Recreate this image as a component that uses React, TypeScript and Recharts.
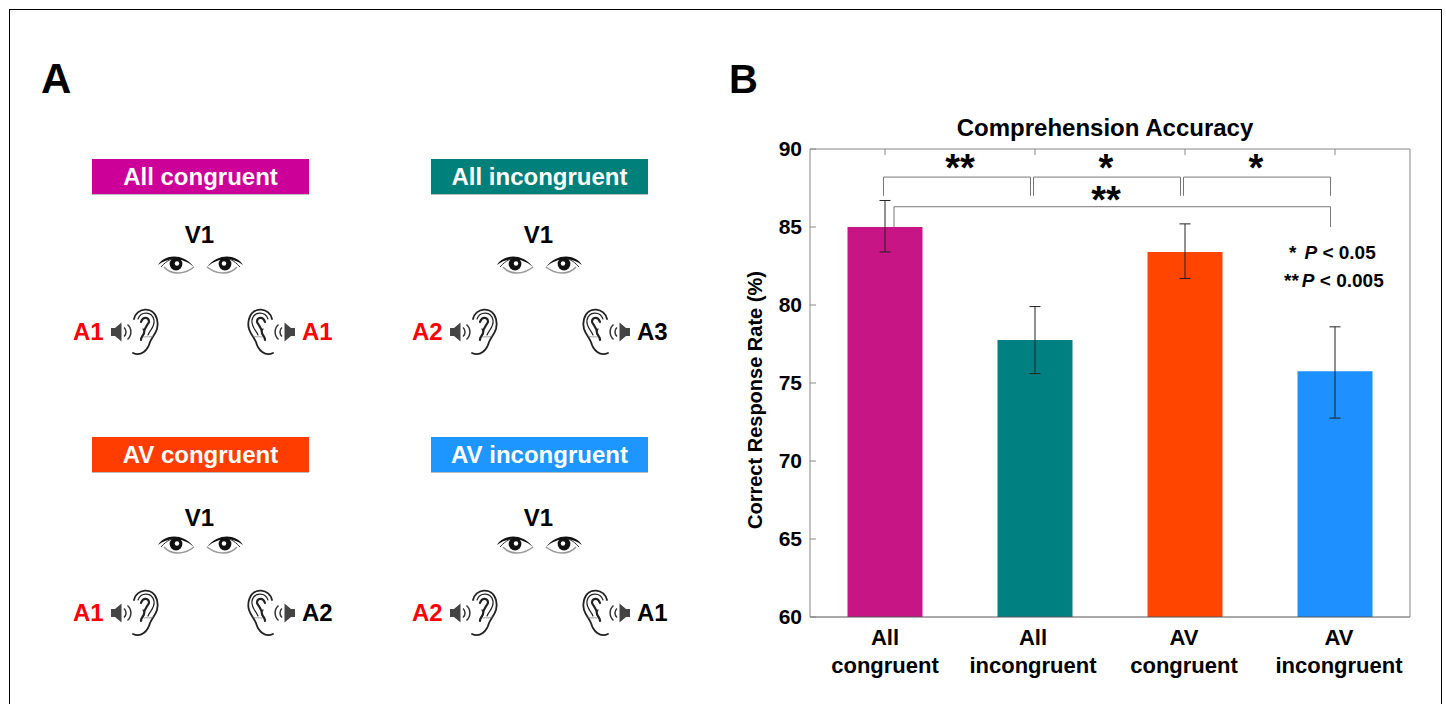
import { BarChart, Bar, Cell, ErrorBar, XAxis, YAxis, ReferenceLine, ReferenceDot } from 'recharts'

// panel B
const categories = ['All congruent', 'All incongruent', 'AV congruent', 'AV incongruent']
const accuracy = [85.0, 77.75, 83.4, 75.75]
const errLow = [1.6, 2.15, 1.7, 3.0]
const errHigh = [1.7, 2.15, 1.8, 2.85]
const barColors = ['#C71585', '#008080', '#FF4500', '#1E90FF']
const yTicks = [60, 65, 70, 75, 80, 85, 90]
const slots = [1, 2, 3, 4]
const labelNudge = [0, -2, -1, 4]

// significance brackets in (slot, value) units
const brackets = [
  { from: 0.99, to: 1.97, top: 88.2, drop: 87 },
  { from: 1.99, to: 2.97, top: 88.2, drop: 87 },
  { from: 2.99, to: 3.97, top: 88.2, drop: 87 },
  { from: 1.06, to: 3.97, top: 86.3, drop: 85 },
]
const stars = [
  { x: 1.5, y: 89.0, label: '**' },
  { x: 2.473, y: 89.0, label: '*' },
  { x: 3.473, y: 89.0, label: '*' },
  { x: 2.473, y: 86.95, label: '**' },
]

// panel A
const conditions = [
  { name: 'All congruent', color: '#CC0099', left: 'A1', right: 'A1', rightRed: true, dx: 0, dxRight: 0, dy: 0 },
  { name: 'All incongruent', color: '#00807A', left: 'A2', right: 'A3', rightRed: false, dx: 339, dxRight: -4, dy: 0 },
  { name: 'AV congruent', color: '#FF3D00', left: 'A1', right: 'A2', rightRed: false, dx: 0, dxRight: 0, dy: 281 },
  { name: 'AV incongruent', color: '#1E96FF', left: 'A2', right: 'A1', rightRed: false, dx: 339, dxRight: -4, dy: 281 },
]

const data = categories.map((category, i) => ({
  category,
  slot: slots[i],
  accuracy: accuracy[i],
  err: [errLow[i], errHigh[i]],
}))

const FONT = '"Liberation Sans", Arial, sans-serif'

function Eye({ x, y, flip }: { x: number; y: number; flip?: boolean }) {
  return (
    <g transform={`translate(${x},${y}) scale(${flip ? -1 : 1},1)`}>
      <path d="M-18,1 C-11,-10 7,-11 18,3 C7,-7 -8,-7 -18,1 Z" fill="#111" />
      <path d="M-15,3 C-9,-4 -3,-6 2,-6" fill="none" stroke="#333" strokeWidth={1} />
      <path d="M-12,3 C-5,11 8,11 18,3" fill="none" stroke="#999" strokeWidth={1.6} />
      <circle cx={0} cy={0} r={6.4} fill="#111" />
      <circle cx={1} cy={-0.5} r={2.2} fill="#fff" />
    </g>
  )
}

function Ear({ x, y, flip }: { x: number; y: number; flip?: boolean }) {
  return (
    <g
      transform={`translate(${x},${y}) scale(${flip ? -1 : 1},1)`}
      fill="none"
      stroke="#222"
      strokeLinecap="round"
    >
      <path d="M1,10 C3,-1 20,-4 24,10 C27,21 20,26 17,33 C15,41 8,48 0,44" strokeWidth={1.8} />
      <path d="M5,10 C8,2 19,2 21,11 C22,18 17,21 15,26" strokeWidth={1.2} />
      <path d="M8,13 C10,7 16,8 16,13 C14,17 11,19 11,24 C10,27 8,28 8,31" strokeWidth={2.2} />
      <path d="M10,20 C12,22 12,24 10,27" strokeWidth={1.2} />
      <path d="M11,28 C14,27 17,29 20,27" strokeWidth={0.8} stroke="#888" />
    </g>
  )
}

function Speaker({ x, y, flip }: { x: number; y: number; flip?: boolean }) {
  return (
    <g transform={`translate(${x},${y}) scale(${flip ? -1 : 1},1)`}>
      <path d="M0,-4 L4,-4 L10.5,-9.5 L10.5,9.5 L4,4 L0,4 Z" fill="#444" />
      <path d="M13,-4.5 A6,6 0 0 1 13,4.5" fill="none" stroke="#333" strokeWidth={1.5} />
      <path d="M16.5,-7.5 A10,10 0 0 1 16.5,7.5" fill="none" stroke="#333" strokeWidth={1.5} />
    </g>
  )
}

function PanelA() {
  return (
    <svg width={720} height={704} style={{ position: 'absolute', left: 0, top: 0 }} fontFamily={FONT}>
      <text x={41} y={93} fontSize={42} fontWeight="bold" fill="#000">A</text>
      {conditions.map(c => (
        <g key={c.name} transform={`translate(${c.dx},${c.dy})`}>
          <rect x={92} y={c.dy ? 157 : 160} width={217} height={35} fill="#bbb" />
          <rect x={92} y={c.dy ? 156 : 159} width={217} height={35} fill={c.color} />
          <text x={200.5} y={c.dy ? 182 : 185} textAnchor="middle" fontSize={24} fontWeight="bold" fill="#fff">
            {c.name}
          </text>
          <text x={199.5} y={c.dy ? 245 : 243} textAnchor="middle" fontSize={24} fontWeight="bold" fill="#000">V1</text>
          <Eye x={176} y={c.dy ? 263 : 264} />
          <Eye x={225} y={c.dy ? 263 : 264} flip />
          <text x={73} y={340} fontSize={24} fontWeight="bold" fill="#FF0000">{c.left}</text>
          <Speaker x={111} y={332} />
          <Ear x={133} y={309} />
          <g transform={`translate(${c.dxRight},0)`}>
            <Ear x={273} y={309} flip />
            <Speaker x={295} y={332} flip />
            <text x={302} y={340} fontSize={24} fontWeight="bold" fill={c.rightRed ? '#FF0000' : '#000'}>{c.right}</text>
          </g>
        </g>
      ))}
    </svg>
  )
}

function CategoryTick({ x, y, payload, index }: any) {
  const words = String(payload.value).split(' ')
  const cx = x + labelNudge[index]
  return (
    <text x={cx} textAnchor="middle" fontSize={22} fontWeight="bold" fill="#000" fontFamily={FONT}>
      <tspan x={cx} y={y + 20}>{words[0]}</tspan>
      <tspan x={cx} y={y + 48}>{words[1]}</tspan>
    </text>
  )
}

function PanelB() {
  return (
    <BarChart
      width={1446}
      height={704}
      data={data}
      margin={{ top: 149, left: 750, right: 36, bottom: 27 }}
      barCategoryGap="25%"
      style={{ position: 'absolute', left: 0, top: 0 }}
    >
      <XAxis
        dataKey="category"
        height={60}
        interval={0}
        tick={<CategoryTick />}
        tickLine={false}
        axisLine={{ stroke: '#555' }}
      />
      <YAxis
        domain={[60, 90]}
        ticks={yTicks}
        width={60}
        tickSize={-6}
        tickMargin={14}
        interval={0}
        tick={{ fontSize: 21, fontWeight: 'bold', fill: '#000', fontFamily: FONT }}
        tickLine={{ stroke: '#888' }}
        axisLine={{ stroke: '#888' }}
        label={{
          value: 'Correct Response Rate (%)',
          angle: -90,
          position: 'insideLeft',
          dx: 0,
          dy: 146,
          style: { fontSize: 20, fontWeight: 'bold', fill: '#000', fontFamily: FONT },
        }}
      />
      {/* matlab style box: mirrored top and right axes */}
      <XAxis
        xAxisId="slot"
        dataKey="slot"
        orientation="top"
        type="number"
        domain={[0.5, 4.5]}
        allowDataOverflow
        ticks={slots}
        height={1}
        mirror
        tickSize={6}
        tickFormatter={() => ''}
        tickLine={{ stroke: '#888' }}
        axisLine={{ stroke: '#888' }}
      />
      <YAxis
        yAxisId="right"
        orientation="right"
        domain={[60, 90]}
        ticks={yTicks}
        width={1}
        mirror
        tickSize={6}
        tickFormatter={() => ''}
        tickLine={{ stroke: '#888' }}
        axisLine={{ stroke: '#888' }}
      />
      <Bar dataKey="accuracy" isAnimationActive={false}>
        {barColors.map(color => <Cell key={color} fill={color} />)}
        <ErrorBar dataKey="err" width={5.5} stroke="#222" strokeWidth={1} isAnimationActive={false} />
      </Bar>
      {brackets.map(b => (
        <g key={`${b.from}-${b.top}`}>
          <ReferenceLine xAxisId="slot" stroke="#777" ifOverflow="visible" segment={[{ x: b.from, y: b.top }, { x: b.to, y: b.top }]} />
          <ReferenceLine xAxisId="slot" stroke="#777" ifOverflow="visible" segment={[{ x: b.from, y: b.top }, { x: b.from, y: b.drop }]} />
          <ReferenceLine xAxisId="slot" stroke="#777" ifOverflow="visible" segment={[{ x: b.to, y: b.top }, { x: b.to, y: b.drop }]} />
        </g>
      ))}
      {stars.map(s => (
        <ReferenceDot
          key={`${s.x}-${s.y}`}
          xAxisId="slot"
          x={s.x}
          y={s.y}
          r={0}
          fill="none"
          stroke="none"
          ifOverflow="visible"
          label={{ value: s.label, position: 'center', dy: 3, style: { fontSize: 38, fontWeight: 'bold', fill: '#000', fontFamily: FONT } }}
        />
      ))}
      <text x={1105} y={136} textAnchor="middle" fontSize={24} fontWeight="bold" fill="#000" fontFamily={FONT}>
        Comprehension Accuracy
      </text>
      <text x={729} y={93} textAnchor="start" fontSize={40} fontWeight="bold" fill="#000" fontFamily={FONT}>B</text>
      <text x={1289} y={259} fontSize={19} fontWeight="bold" fill="#000" fontFamily={FONT}>
        *
        <tspan dx={8} fontStyle="italic">P</tspan>
        <tspan> {'<'} 0.05</tspan>
      </text>
      <text x={1284} y={287} fontSize={19} fontWeight="bold" fill="#000" fontFamily={FONT}>
        **
        <tspan dx={3} fontStyle="italic">P</tspan>
        <tspan> {'<'} 0.005</tspan>
      </text>
    </BarChart>
  )
}

export default function App() {
  return (
    <div style={{ position: 'absolute', left: 0, top: 0, width: 1446, height: 704, background: '#fff', overflow: 'hidden' }}>
      <div style={{ position: 'absolute', left: 9, top: 9, width: 1433, height: 720, border: '1px solid #000', boxSizing: 'border-box' }} />
      <PanelA />
      <PanelB />
    </div>
  )
}
